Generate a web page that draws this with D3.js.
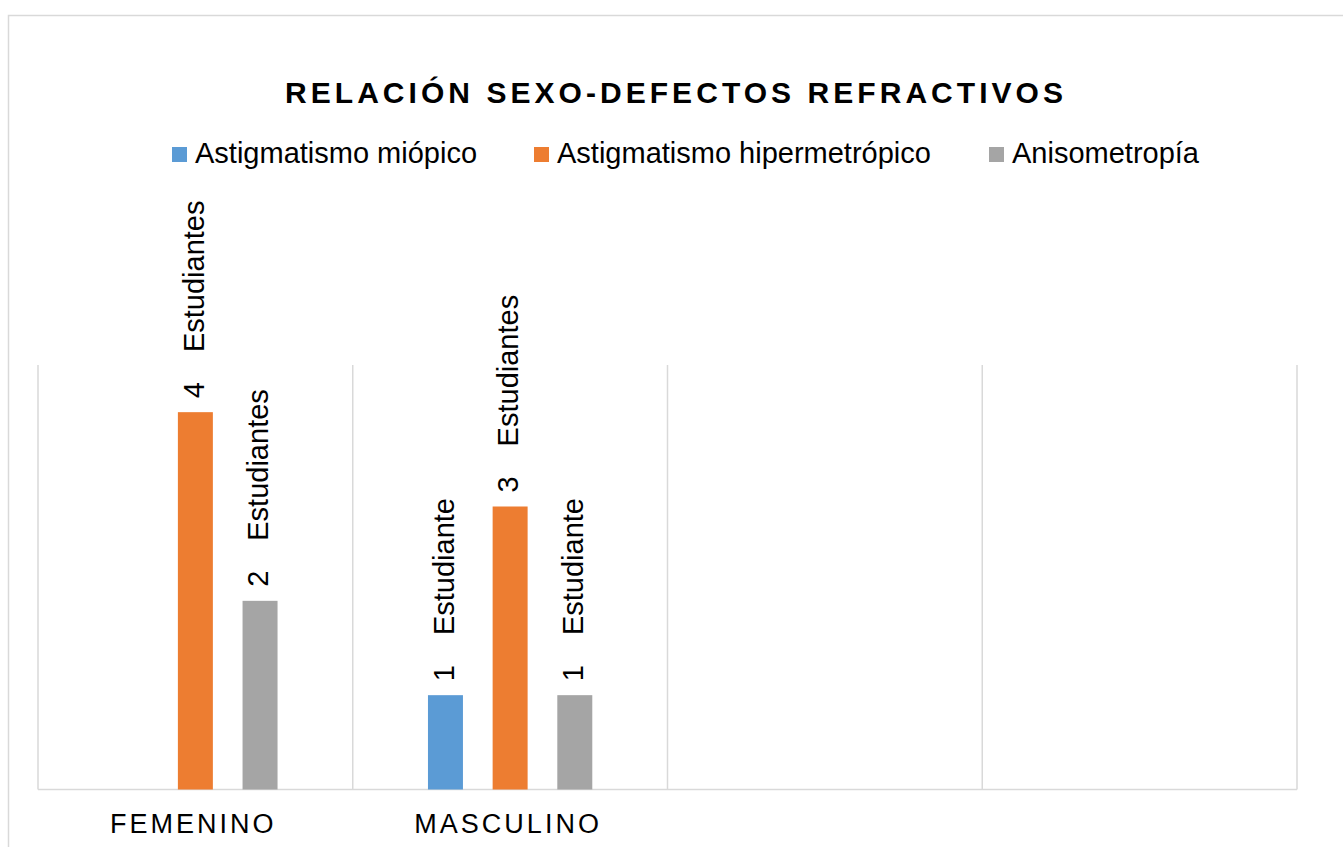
<!DOCTYPE html>
<html>
<head>
<meta charset="utf-8">
<script src="https://cdn.jsdelivr.net/npm/d3@7"></script>
<style>
  body { margin: 0; background: #fff; }
  text { font-family: "Liberation Sans", Arial, sans-serif; }
</style>
</head>
<body>
<div id="chart"></div>
<script>
// data
var categories = ["FEMENINO", "MASCULINO", "", ""];
var seriesNames = ["Astigmatismo miópico", "Astigmatismo hipermetrópico", "Anisometropía"];
var miopico = [null, 1, null, null];
var hipermetropico = [4, 3, null, null];
var anisometropia = [2, 1, null, null];
var colors = ["#5B9BD5", "#ED7D31", "#A5A5A5"];

var W = 1343, H = 847;

const svg = d3.select("#chart")
  .append("svg")
    .attr("width", W)
    .attr("height", H);

// chart area border
svg.append("rect")
  .attr("x", 8.5).attr("y", 15.5)
  .attr("width", 1400).attr("height", 900)
  .attr("fill", "#fff")
  .attr("stroke", "#d9d9d9")
  .attr("stroke-width", 1.5);

// title
svg.append("text")
  .attr("x", 285).attr("y", 102.5)
  .attr("textLength", 778)
  .attr("lengthAdjust", "spacing")
  .style("font-size", "30px")
  .style("font-weight", "bold")
  .attr("fill", "#000")
  .text("RELACIÓN SEXO-DEFECTOS REFRACTIVOS");

// legend
var legendX = [172, 534, 989];
seriesNames.forEach(function(name, i) {
  svg.append("rect")
    .attr("x", legendX[i]).attr("y", 147)
    .attr("width", 15).attr("height", 15)
    .attr("fill", colors[i]);
  svg.append("text")
    .attr("x", legendX[i] + 23).attr("y", 163)
    .style("font-size", "29px")
    .attr("fill", "#000")
    .text(name);
});

// scales
const x0 = d3.scaleBand()
  .domain(d3.range(categories.length))
  .range([38, 1297]);

var bw = x0.bandwidth();
const x1 = d3.scaleBand()
  .domain(d3.range(seriesNames.length))
  .range([bw / 2 - 97, bw / 2 + 97])
  .paddingInner(0.459)
  .paddingOuter(0.2295);

const y = d3.scaleLinear()
  .domain([0, 4.5])
  .range([789.5, 365]);

// vertical gridlines at category edges
var edges = categories.map(function(c, i) { return x0(i); }).concat([x0.range()[1]]);
svg.selectAll(".grid")
  .data(edges)
  .enter().append("line")
    .attr("x1", function(d) { return d; })
    .attr("x2", function(d) { return d; })
    .attr("y1", y(4.5))
    .attr("y2", y(0))
    .attr("stroke", "#d9d9d9")
    .attr("stroke-width", 1.5);

// baseline
svg.append("line")
  .attr("x1", x0.range()[0]).attr("x2", x0.range()[1])
  .attr("y1", y(0)).attr("y2", y(0))
  .attr("stroke", "#d9d9d9")
  .attr("stroke-width", 1.5);

// bars
var allSeries = [miopico, hipermetropico, anisometropia];
var rows = [];
allSeries.forEach(function(vals, s) {
  vals.forEach(function(v, c) {
    if (v != null) rows.push({s: s, c: c, v: v});
  });
});

svg.selectAll(".bar")
  .data(rows)
  .enter().append("rect")
    .attr("x", function(d) { return x0(d.c) + x1(d.s); })
    .attr("y", function(d) { return y(d.v); })
    .attr("width", x1.bandwidth())
    .attr("height", function(d) { return y(0) - y(d.v); })
    .attr("fill", function(d) { return colors[d.s]; });

// data labels, rotated
svg.selectAll(".lbl")
  .data(rows)
  .enter().append("text")
    .attr("transform", function(d) {
      var cx = x0(d.c) + x1(d.s) + x1.bandwidth() / 2;
      return "translate(" + cx + "," + (y(d.v) - 14) + ") rotate(-90)";
    })
    .attr("dy", "0.28em")
    .attr("xml:space", "preserve")
    .style("white-space", "pre")
    .style("font-size", "29px")
    .attr("fill", "#000")
    .text(function(d) { return d.v + "   \u2009" + (d.v === 1 ? "Estudiante" : "Estudiantes"); });

// category labels
svg.selectAll(".cat")
  .data(categories)
  .enter().append("text")
    .filter(function(d) { return d !== ""; })
    .attr("x", function(d, i) { return x0(i) + bw / 2 - 2; })
    .attr("y", 832.5)
    .attr("text-anchor", "middle")
    .style("font-size", "27px")
    .style("letter-spacing", "3px")
    .attr("fill", "#000")
    .text(function(d) { return d; });
</script>
</body>
</html>
